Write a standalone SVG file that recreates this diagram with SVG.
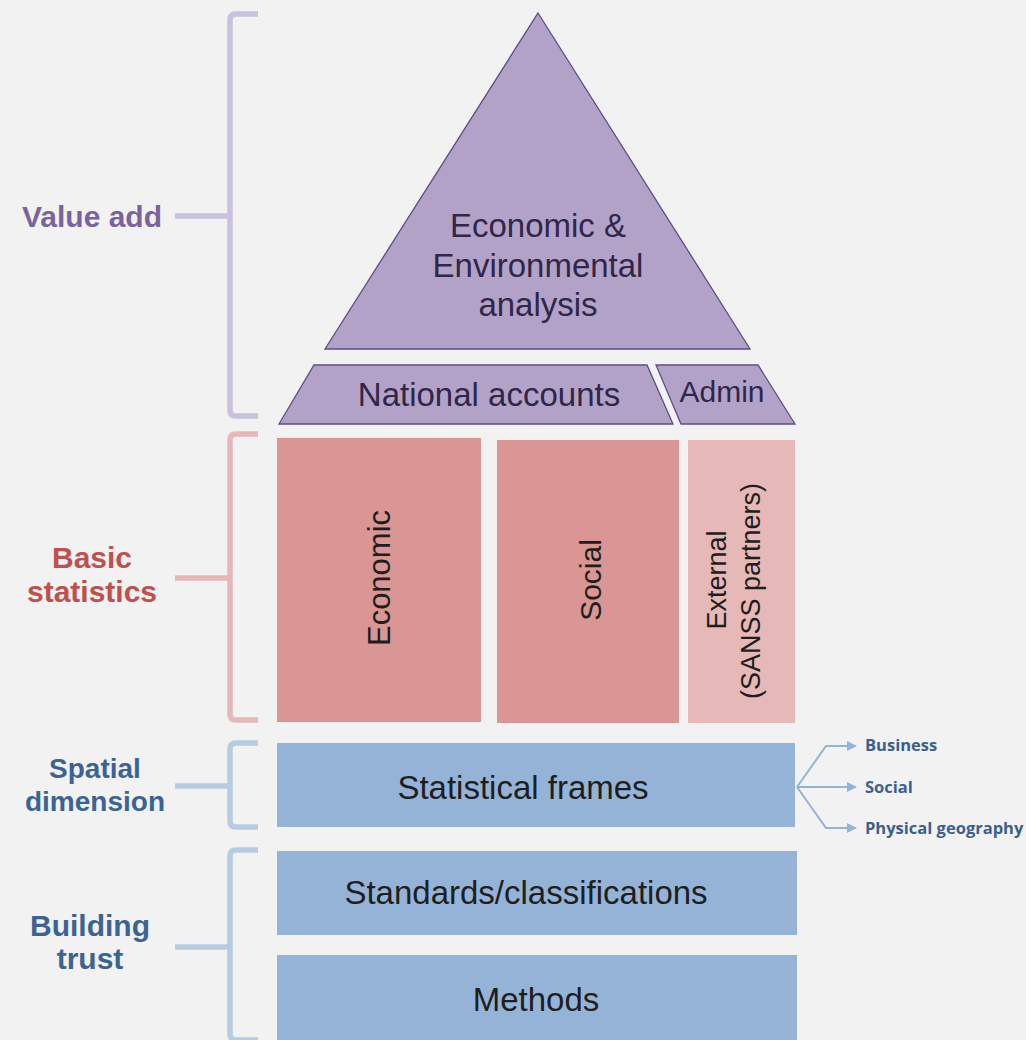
<svg xmlns="http://www.w3.org/2000/svg" width="1026" height="1040" viewBox="0 0 1026 1040">
<defs>
<style>
.lbl{font-family:"Liberation Sans",Arial,sans-serif;font-weight:bold;font-size:30px;text-anchor:middle}
.t{font-family:"Liberation Sans",Arial,sans-serif;font-size:33px;fill:#1e1e1e;text-anchor:middle}
.tp{fill:#30264a}
.br{fill:none;stroke-width:5.5;stroke-linejoin:round}
.pur{fill:#b3a2c7;stroke:#5f4b8b;stroke-width:1.3}
.red{fill:#d99694}
.blu{fill:#95b3d7}
.sm{font-family:"Open Sans","Liberation Sans",sans-serif;font-weight:bold;font-size:16.5px;fill:#3b5f8f}
.ar{fill:none;stroke:#95b3d7;stroke-width:2}
</style>
<marker id="ah" viewBox="0 0 10 10" refX="9" refY="5" markerWidth="5" markerHeight="5" orient="auto">
<path d="M0,0 L10,5 L0,10 z" fill="#95b3d7"/>
</marker>
</defs>
<rect width="1026" height="1040" fill="#f2f2f2"/>

<g id="brackets">
<path class="br" stroke="#c9c1dd" d="M258,14 H236 Q230,14 230,20 V410 Q230,416 236,416 H258 M175,216 H230"/>
<path class="br" stroke="#e6b8b8" d="M258,434 H236 Q230,434 230,440 V714 Q230,720 236,720 H258 M175,578 H230"/>
<path class="br" stroke="#b7cbe2" d="M258,743 H236 Q230,743 230,749 V821 Q230,827 236,827 H258 M175,786 H230"/>
<path class="br" stroke="#b7cbe2" d="M258,850 H236 Q230,850 230,856 V1034 Q230,1040 236,1040 H258 M175,947 H230"/>
</g>

<g id="labels">
<text class="lbl" x="92" y="227" fill="#7a64a0">Value add</text>
<text class="lbl" x="92" y="568" fill="#c0504d">Basic</text>
<text class="lbl" x="92" y="602" fill="#c0504d">statistics</text>
<text class="lbl" x="95" y="778" fill="#3b6494" style="font-size:28px">Spatial</text>
<text class="lbl" x="95" y="811" fill="#3b6494" style="font-size:28px">dimension</text>
<text class="lbl" x="90" y="936" fill="#3b6494">Building</text>
<text class="lbl" x="90" y="969" fill="#3b6494">trust</text>
</g>

<g id="analysis">
<polygon class="pur" points="538,13 750,349 325,349"/>
<text class="t tp" x="538" y="237">Economic &amp;</text>
<text class="t tp" x="538" y="277">Environmental</text>
<text class="t tp" x="538" y="316">analysis</text>
</g>

<g id="national-accounts">
<polygon class="pur" points="314,365 647,365 673,424 279,424"/>
<text class="t tp" x="489" y="406">National accounts</text>
</g>

<g id="admin">
<polygon class="pur" points="656,365 758,365 795,424 681,424"/>
<text class="t tp" x="722" y="402" style="font-size:30px">Admin</text>
</g>

<g id="economic">
<rect class="red" x="277" y="438" width="204" height="284"/>
<text class="t" transform="translate(390,578) rotate(-90)" style="font-size:31px">Economic</text>
</g>

<g id="social">
<rect class="red" x="497" y="440" width="182" height="283"/>
<text class="t" transform="translate(601,580) rotate(-90)" style="font-size:30px">Social</text>
</g>

<g id="external">
<rect x="688" y="440" width="107" height="283" fill="#e6b9b8"/>
<text class="t" transform="translate(726,580) rotate(-90)" style="font-size:27px">External</text>
<text class="t" transform="translate(760,591) rotate(-90)" style="font-size:27px">(SANSS partners)</text>
</g>

<g id="statistical-frames">
<rect class="blu" x="277" y="743" width="518" height="84"/>
<text class="t" x="523" y="799">Statistical frames</text>
</g>

<g id="standards">
<rect class="blu" x="277" y="851" width="520" height="84"/>
<text class="t" x="526" y="904">Standards/classifications</text>
</g>

<g id="methods">
<rect class="blu" x="277" y="955" width="520" height="85"/>
<text class="t" x="536" y="1011">Methods</text>
</g>

<g id="connectors">
<path class="ar" marker-end="url(#ah)" d="M797,787 L826,746 H856"/>
<path class="ar" marker-end="url(#ah)" d="M797,787 H856"/>
<path class="ar" marker-end="url(#ah)" d="M797,787 L826,828 H856"/>
</g>

<g id="branches">
<text class="sm" x="865" y="751">Business</text>
<text class="sm" x="865" y="793">Social</text>
<text class="sm" x="865" y="834">Physical geography</text>
</g>
</svg>
